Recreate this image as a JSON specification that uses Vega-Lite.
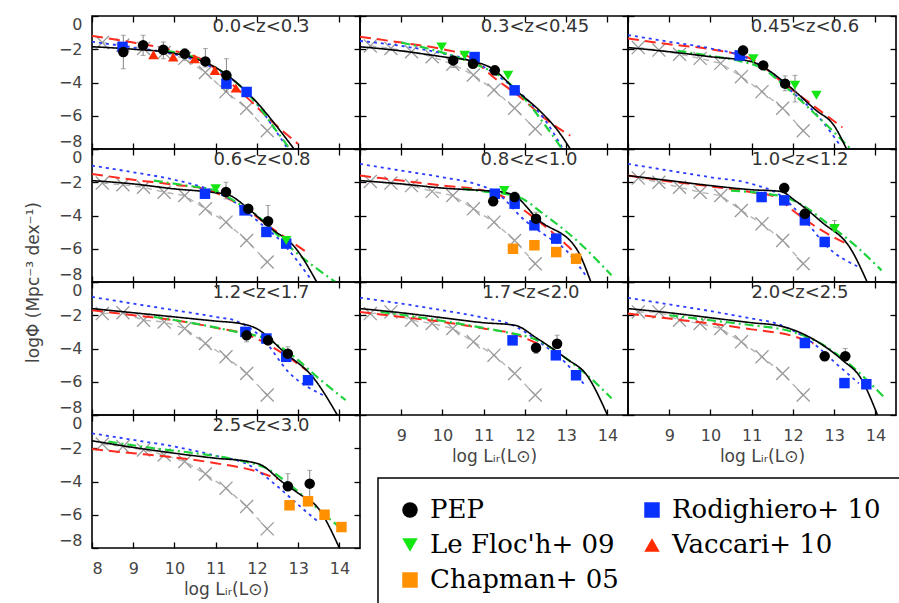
{
"$schema": "https://vega.github.io/schema/vega-lite/v6.json",
"background": "white",
"padding": {"left": 23, "top": 14, "right": 2, "bottom": 0},
"columns": 3,
"spacing": 0,
"bounds": "flush",
"data": {"values": [
{"p":1,"k":"c","s":"dashed","x":8,"y":-1.2},{"p":1,"k":"c","s":"dashed","x":9,"y":-1.6},{"p":1,"k":"c","s":"dashed","x":10,"y":-2.1},{"p":1,"k":"c","s":"dashed","x":10.8,"y":-2.8},{"p":1,"k":"c","s":"dashed","x":11.3,"y":-3.9},{"p":1,"k":"c","s":"dashed","x":11.8,"y":-5.0},{"p":1,"k":"c","s":"dashed","x":12.3,"y":-6.2},{"p":1,"k":"c","s":"dashed","x":13.0,"y":-7.7},
{"p":1,"k":"c","s":"dotted","x":8,"y":-1.55},{"p":1,"k":"c","s":"dotted","x":9,"y":-1.9},{"p":1,"k":"c","s":"dotted","x":10,"y":-2.3},{"p":1,"k":"c","s":"dotted","x":11,"y":-3.2},{"p":1,"k":"c","s":"dotted","x":11.5,"y":-4.0},{"p":1,"k":"c","s":"dotted","x":12,"y":-5.3},{"p":1,"k":"c","s":"dotted","x":12.4,"y":-6.7},{"p":1,"k":"c","s":"dotted","x":12.75,"y":-8},
{"p":1,"k":"c","s":"dashdot","x":9.8,"y":-2.1},{"p":1,"k":"c","s":"dashdot","x":10.5,"y":-2.5},{"p":1,"k":"c","s":"dashdot","x":11,"y":-3.1},{"p":1,"k":"c","s":"dashdot","x":11.5,"y":-4.0},{"p":1,"k":"c","s":"dashdot","x":12,"y":-5.3},{"p":1,"k":"c","s":"dashdot","x":12.5,"y":-7.0},{"p":1,"k":"c","s":"dashdot","x":12.8,"y":-8},
{"p":1,"k":"c","s":"solid","x":8,"y":-1.85},{"p":1,"k":"c","s":"solid","x":9,"y":-2.0},{"p":1,"k":"c","s":"solid","x":10,"y":-2.25},{"p":1,"k":"c","s":"solid","x":10.6,"y":-2.65},{"p":1,"k":"c","s":"solid","x":11,"y":-3.1},{"p":1,"k":"c","s":"solid","x":11.5,"y":-4.0},{"p":1,"k":"c","s":"solid","x":12,"y":-5.2},{"p":1,"k":"c","s":"solid","x":12.5,"y":-6.7},{"p":1,"k":"c","s":"solid","x":12.9,"y":-8},
{"p":1,"k":"g","x":8.25,"y":-1.6},{"p":1,"k":"g","x":8.75,"y":-1.75},{"p":1,"k":"g","x":9.25,"y":-1.95},{"p":1,"k":"g","x":9.75,"y":-2.2},{"p":1,"k":"g","x":10.25,"y":-2.55},{"p":1,"k":"g","x":10.75,"y":-3.4},{"p":1,"k":"g","x":11.25,"y":-4.55},{"p":1,"k":"g","x":11.75,"y":-5.55},{"p":1,"k":"g","x":12.25,"y":-6.9},
{"p":1,"k":"d","s":"Rodighiero+ 10","x":8.74,"y":-1.86},{"p":1,"k":"d","s":"Rodighiero+ 10","x":11.26,"y":-4.07},{"p":1,"k":"d","s":"Rodighiero+ 10","x":11.75,"y":-4.57},
{"p":1,"k":"d","s":"Vaccari+ 10","x":9.49,"y":-2.33},{"p":1,"k":"d","s":"Vaccari+ 10","x":9.97,"y":-2.47},{"p":1,"k":"d","s":"Vaccari+ 10","x":10.49,"y":-2.57},{"p":1,"k":"d","s":"Vaccari+ 10","x":10.98,"y":-3.27},{"p":1,"k":"d","s":"Vaccari+ 10","x":11.49,"y":-4.33},
{"p":1,"k":"d","s":"PEP","x":8.76,"y":-2.17,"lo":-3.17,"hi":-1.16},{"p":1,"k":"d","s":"PEP","x":9.24,"y":-1.76,"lo":-2.37,"hi":-1.16},{"p":1,"k":"d","s":"PEP","x":9.73,"y":-2.03,"lo":-2.57,"hi":-1.56},{"p":1,"k":"d","s":"PEP","x":10.25,"y":-2.27,"lo":-2.67,"hi":-1.96},{"p":1,"k":"d","s":"PEP","x":10.75,"y":-2.73,"lo":-3.07,"hi":-1.96},{"p":1,"k":"d","s":"PEP","x":11.26,"y":-3.57,"lo":-4.57,"hi":-2.57},

{"p":2,"k":"v","x":10.0},
{"p":2,"k":"c","s":"dashed","x":8,"y":-1.25},{"p":2,"k":"c","s":"dashed","x":9,"y":-1.6},{"p":2,"k":"c","s":"dashed","x":10,"y":-2.0},{"p":2,"k":"c","s":"dashed","x":10.6,"y":-2.4},{"p":2,"k":"c","s":"dashed","x":11.3,"y":-3.8},{"p":2,"k":"c","s":"dashed","x":11.9,"y":-4.9},{"p":2,"k":"c","s":"dashed","x":12.5,"y":-6.2},{"p":2,"k":"c","s":"dashed","x":13.1,"y":-7.2},
{"p":2,"k":"c","s":"dotted","x":8,"y":-1.5},{"p":2,"k":"c","s":"dotted","x":9,"y":-1.8},{"p":2,"k":"c","s":"dotted","x":10,"y":-2.25},{"p":2,"k":"c","s":"dotted","x":10.8,"y":-2.8},{"p":2,"k":"c","s":"dotted","x":11.4,"y":-3.7},{"p":2,"k":"c","s":"dotted","x":12,"y":-4.9},{"p":2,"k":"c","s":"dotted","x":12.5,"y":-6.3},{"p":2,"k":"c","s":"dotted","x":12.9,"y":-7.9},
{"p":2,"k":"c","s":"dashdot","x":9,"y":-1.6},{"p":2,"k":"c","s":"dashdot","x":10,"y":-2.2},{"p":2,"k":"c","s":"dashdot","x":10.8,"y":-2.9},{"p":2,"k":"c","s":"dashdot","x":11.5,"y":-3.8},{"p":2,"k":"c","s":"dashdot","x":12,"y":-5.0},{"p":2,"k":"c","s":"dashdot","x":12.5,"y":-6.6},{"p":2,"k":"c","s":"dashdot","x":12.9,"y":-8},
{"p":2,"k":"c","s":"solid","x":8,"y":-1.85},{"p":2,"k":"c","s":"solid","x":9,"y":-2.1},{"p":2,"k":"c","s":"solid","x":10,"y":-2.45},{"p":2,"k":"c","s":"solid","x":10.7,"y":-2.7},{"p":2,"k":"c","s":"solid","x":11.2,"y":-3.15},{"p":2,"k":"c","s":"solid","x":11.8,"y":-4.5},{"p":2,"k":"c","s":"solid","x":12.4,"y":-5.8},{"p":2,"k":"c","s":"solid","x":12.8,"y":-6.9},{"p":2,"k":"c","s":"solid","x":13.1,"y":-8},
{"p":2,"k":"g","x":8.25,"y":-1.8},{"p":2,"k":"g","x":8.75,"y":-1.95},{"p":2,"k":"g","x":9.25,"y":-2.15},{"p":2,"k":"g","x":9.75,"y":-2.45},{"p":2,"k":"g","x":10.25,"y":-2.9},{"p":2,"k":"g","x":10.75,"y":-3.55},{"p":2,"k":"g","x":11.25,"y":-4.45},{"p":2,"k":"g","x":11.75,"y":-5.55},{"p":2,"k":"g","x":12.25,"y":-6.8},
{"p":2,"k":"d","s":"Rodighiero+ 10","x":10.78,"y":-2.47},{"p":2,"k":"d","s":"Rodighiero+ 10","x":11.75,"y":-4.47},
{"p":2,"k":"d","s":"Le Floc'h+ 09","x":9.98,"y":-1.86},{"p":2,"k":"d","s":"Le Floc'h+ 09","x":10.54,"y":-2.37},{"p":2,"k":"d","s":"Le Floc'h+ 09","x":11.59,"y":-3.57},
{"p":2,"k":"d","s":"PEP","x":10.26,"y":-2.67,"lo":-3.1,"hi":-2.45},{"p":2,"k":"d","s":"PEP","x":10.74,"y":-2.87,"lo":-3.0,"hi":-2.7},{"p":2,"k":"d","s":"PEP","x":11.27,"y":-3.27,"lo":-3.55,"hi":-3.0},

{"p":3,"k":"v","x":10.55},
{"p":3,"k":"c","s":"dashed","x":8,"y":-1.35},{"p":3,"k":"c","s":"dashed","x":9,"y":-1.7},{"p":3,"k":"c","s":"dashed","x":10,"y":-2.0},{"p":3,"k":"c","s":"dashed","x":11,"y":-2.6},{"p":3,"k":"c","s":"dashed","x":11.8,"y":-4.1},{"p":3,"k":"c","s":"dashed","x":12.5,"y":-5.4},{"p":3,"k":"c","s":"dashed","x":13.2,"y":-6.7},
{"p":3,"k":"c","s":"dotted","x":8,"y":-1.15},{"p":3,"k":"c","s":"dotted","x":9,"y":-1.55},{"p":3,"k":"c","s":"dotted","x":10,"y":-1.95},{"p":3,"k":"c","s":"dotted","x":10.7,"y":-2.35},{"p":3,"k":"c","s":"dotted","x":11.3,"y":-3.1},{"p":3,"k":"c","s":"dotted","x":12.0,"y":-4.6},{"p":3,"k":"c","s":"dotted","x":12.6,"y":-6.0},{"p":3,"k":"c","s":"dotted","x":13.15,"y":-7.8},
{"p":3,"k":"c","s":"dashdot","x":9.2,"y":-2.1},{"p":3,"k":"c","s":"dashdot","x":10,"y":-2.4},{"p":3,"k":"c","s":"dashdot","x":10.7,"y":-2.7},{"p":3,"k":"c","s":"dashdot","x":11.3,"y":-3.2},{"p":3,"k":"c","s":"dashdot","x":11.7,"y":-4.0},{"p":3,"k":"c","s":"dashdot","x":12.5,"y":-5.8},{"p":3,"k":"c","s":"dashdot","x":13.0,"y":-7.0},{"p":3,"k":"c","s":"dashdot","x":13.4,"y":-8},
{"p":3,"k":"c","s":"solid","x":8,"y":-1.9},{"p":3,"k":"c","s":"solid","x":9,"y":-2.15},{"p":3,"k":"c","s":"solid","x":10,"y":-2.45},{"p":3,"k":"c","s":"solid","x":11,"y":-2.75},{"p":3,"k":"c","s":"solid","x":11.3,"y":-3.1},{"p":3,"k":"c","s":"solid","x":11.85,"y":-4.1},{"p":3,"k":"c","s":"solid","x":12.55,"y":-5.65},{"p":3,"k":"c","s":"solid","x":13.0,"y":-6.6},{"p":3,"k":"c","s":"solid","x":13.3,"y":-8},
{"p":3,"k":"g","x":8.25,"y":-1.9},{"p":3,"k":"g","x":8.75,"y":-2.05},{"p":3,"k":"g","x":9.25,"y":-2.3},{"p":3,"k":"g","x":9.75,"y":-2.55},{"p":3,"k":"g","x":10.25,"y":-2.85},{"p":3,"k":"g","x":10.75,"y":-3.65},{"p":3,"k":"g","x":11.25,"y":-4.55},{"p":3,"k":"g","x":11.75,"y":-5.55},{"p":3,"k":"g","x":12.25,"y":-6.9},
{"p":3,"k":"d","s":"Rodighiero+ 10","x":10.71,"y":-2.37},
{"p":3,"k":"d","s":"Le Floc'h+ 09","x":11.04,"y":-2.57},{"p":3,"k":"d","s":"Le Floc'h+ 09","x":12.05,"y":-4.17,"lo":-5.17,"hi":-3.57},{"p":3,"k":"d","s":"Le Floc'h+ 09","x":12.57,"y":-4.77},
{"p":3,"k":"d","s":"PEP","x":10.79,"y":-2.07,"lo":-2.4,"hi":-1.8},{"p":3,"k":"d","s":"PEP","x":11.28,"y":-2.97,"lo":-3.2,"hi":-2.75},{"p":3,"k":"d","s":"PEP","x":11.81,"y":-4.07,"lo":-4.5,"hi":-3.6},

{"p":4,"k":"v","x":10.9},
{"p":4,"k":"c","s":"dashed","x":8,"y":-1.5},{"p":4,"k":"c","s":"dashed","x":9,"y":-1.85},{"p":4,"k":"c","s":"dashed","x":10,"y":-2.15},{"p":4,"k":"c","s":"dashed","x":10.8,"y":-2.45},{"p":4,"k":"c","s":"dashed","x":11.4,"y":-3.1},{"p":4,"k":"c","s":"dashed","x":12.5,"y":-5.0},{"p":4,"k":"c","s":"dashed","x":13.2,"y":-6.2},
{"p":4,"k":"c","s":"dotted","x":8,"y":-1.0},{"p":4,"k":"c","s":"dotted","x":9,"y":-1.4},{"p":4,"k":"c","s":"dotted","x":10,"y":-1.85},{"p":4,"k":"c","s":"dotted","x":10.8,"y":-2.4},{"p":4,"k":"c","s":"dotted","x":11.4,"y":-3.1},{"p":4,"k":"c","s":"dotted","x":12.0,"y":-4.3},{"p":4,"k":"c","s":"dotted","x":12.6,"y":-5.6},{"p":4,"k":"c","s":"dotted","x":13.3,"y":-7.8},
{"p":4,"k":"c","s":"dashdot","x":9.5,"y":-1.9},{"p":4,"k":"c","s":"dashdot","x":10.3,"y":-2.2},{"p":4,"k":"c","s":"dashdot","x":11.0,"y":-2.5},{"p":4,"k":"c","s":"dashdot","x":11.5,"y":-3.2},{"p":4,"k":"c","s":"dashdot","x":12.0,"y":-4.0},{"p":4,"k":"c","s":"dashdot","x":12.8,"y":-5.9},{"p":4,"k":"c","s":"dashdot","x":13.9,"y":-8},
{"p":4,"k":"c","s":"solid","x":8,"y":-1.9},{"p":4,"k":"c","s":"solid","x":9,"y":-2.1},{"p":4,"k":"c","s":"solid","x":10,"y":-2.4},{"p":4,"k":"c","s":"solid","x":10.9,"y":-2.6},{"p":4,"k":"c","s":"solid","x":11.3,"y":-2.75},{"p":4,"k":"c","s":"solid","x":11.75,"y":-3.5},{"p":4,"k":"c","s":"solid","x":12.3,"y":-4.7},{"p":4,"k":"c","s":"solid","x":12.95,"y":-6.0},{"p":4,"k":"c","s":"solid","x":13.45,"y":-8},
{"p":4,"k":"g","x":8.25,"y":-2.05},{"p":4,"k":"g","x":8.75,"y":-2.15},{"p":4,"k":"g","x":9.25,"y":-2.3},{"p":4,"k":"g","x":9.75,"y":-2.6},{"p":4,"k":"g","x":10.25,"y":-2.8},{"p":4,"k":"g","x":10.75,"y":-3.6},{"p":4,"k":"g","x":11.25,"y":-4.4},{"p":4,"k":"g","x":11.75,"y":-5.5},{"p":4,"k":"g","x":12.25,"y":-6.8},
{"p":4,"k":"d","s":"Rodighiero+ 10","x":10.74,"y":-2.69},{"p":4,"k":"d","s":"Rodighiero+ 10","x":11.7,"y":-3.69},{"p":4,"k":"d","s":"Rodighiero+ 10","x":12.23,"y":-4.99},{"p":4,"k":"d","s":"Rodighiero+ 10","x":12.71,"y":-5.69},
{"p":4,"k":"d","s":"Le Floc'h+ 09","x":11.0,"y":-2.39},{"p":4,"k":"d","s":"Le Floc'h+ 09","x":12.71,"y":-5.5},
{"p":4,"k":"d","s":"PEP","x":11.25,"y":-2.59,"lo":-3.0,"hi":-2.0},{"p":4,"k":"d","s":"PEP","x":11.79,"y":-3.59,"lo":-3.8,"hi":-3.4},{"p":4,"k":"d","s":"PEP","x":12.27,"y":-4.35,"lo":-5.0,"hi":-3.4},

{"p":5,"k":"v","x":11.51},
{"p":5,"k":"c","s":"dashed","x":8,"y":-1.6},{"p":5,"k":"c","s":"dashed","x":9,"y":-1.9},{"p":5,"k":"c","s":"dashed","x":10,"y":-2.2},{"p":5,"k":"c","s":"dashed","x":11,"y":-2.5},{"p":5,"k":"c","s":"dashed","x":11.5,"y":-2.9},{"p":5,"k":"c","s":"dashed","x":12.2,"y":-4.1},{"p":5,"k":"c","s":"dashed","x":12.8,"y":-5.3},{"p":5,"k":"c","s":"dashed","x":13.4,"y":-6.7},
{"p":5,"k":"c","s":"dotted","x":8,"y":-0.9},{"p":5,"k":"c","s":"dotted","x":9,"y":-1.3},{"p":5,"k":"c","s":"dotted","x":10,"y":-1.7},{"p":5,"k":"c","s":"dotted","x":10.8,"y":-2.1},{"p":5,"k":"c","s":"dotted","x":11.3,"y":-2.6},{"p":5,"k":"c","s":"dotted","x":12.0,"y":-4.3},{"p":5,"k":"c","s":"dotted","x":12.5,"y":-5.2},{"p":5,"k":"c","s":"dotted","x":13.0,"y":-6.1},{"p":5,"k":"c","s":"dotted","x":13.5,"y":-7.7},
{"p":5,"k":"c","s":"dashdot","x":10.5,"y":-2.4},{"p":5,"k":"c","s":"dashdot","x":11,"y":-2.55},{"p":5,"k":"c","s":"dashdot","x":11.8,"y":-2.85},{"p":5,"k":"c","s":"dashdot","x":12.5,"y":-4.0},{"p":5,"k":"c","s":"dashdot","x":13.3,"y":-5.6},{"p":5,"k":"c","s":"dashdot","x":14.1,"y":-7.6},
{"p":5,"k":"c","s":"solid","x":8,"y":-1.9},{"p":5,"k":"c","s":"solid","x":9,"y":-2.1},{"p":5,"k":"c","s":"solid","x":10,"y":-2.35},{"p":5,"k":"c","s":"solid","x":11,"y":-2.5},{"p":5,"k":"c","s":"solid","x":11.5,"y":-2.6},{"p":5,"k":"c","s":"solid","x":11.8,"y":-2.9},{"p":5,"k":"c","s":"solid","x":12.3,"y":-4.2},{"p":5,"k":"c","s":"solid","x":13.25,"y":-6.0},{"p":5,"k":"c","s":"solid","x":13.6,"y":-8},
{"p":5,"k":"g","x":8.25,"y":-1.95},{"p":5,"k":"g","x":8.75,"y":-2.05},{"p":5,"k":"g","x":9.25,"y":-2.2},{"p":5,"k":"g","x":9.75,"y":-2.55},{"p":5,"k":"g","x":10.25,"y":-2.8},{"p":5,"k":"g","x":10.75,"y":-3.6},{"p":5,"k":"g","x":11.25,"y":-4.4},{"p":5,"k":"g","x":11.75,"y":-5.5},{"p":5,"k":"g","x":12.25,"y":-6.9},
{"p":5,"k":"d","s":"Rodighiero+ 10","x":11.27,"y":-2.69},{"p":5,"k":"d","s":"Rodighiero+ 10","x":11.75,"y":-3.29},{"p":5,"k":"d","s":"Rodighiero+ 10","x":12.23,"y":-4.59},{"p":5,"k":"d","s":"Rodighiero+ 10","x":12.76,"y":-5.39},
{"p":5,"k":"d","s":"Le Floc'h+ 09","x":11.5,"y":-2.5},
{"p":5,"k":"d","s":"Chapman+ 05","x":11.71,"y":-6.0,"lo":-6.15,"hi":-5.85},{"p":5,"k":"d","s":"Chapman+ 05","x":12.23,"y":-5.79,"lo":-5.94,"hi":-5.64},{"p":5,"k":"d","s":"Chapman+ 05","x":12.76,"y":-6.2,"lo":-6.35,"hi":-6.05},{"p":5,"k":"d","s":"Chapman+ 05","x":13.24,"y":-6.6,"lo":-6.75,"hi":-6.45},
{"p":5,"k":"d","s":"PEP","x":11.23,"y":-3.15,"lo":-3.4,"hi":-2.9},{"p":5,"k":"d","s":"PEP","x":11.75,"y":-2.89,"lo":-3.1,"hi":-2.6},{"p":5,"k":"d","s":"PEP","x":12.27,"y":-4.19,"lo":-4.5,"hi":-3.8},

{"p":6,"k":"v","x":11.79},
{"p":6,"k":"c","s":"dashed","x":8,"y":-1.6},{"p":6,"k":"c","s":"dashed","x":9,"y":-1.95},{"p":6,"k":"c","s":"dashed","x":10,"y":-2.25},{"p":6,"k":"c","s":"dashed","x":11,"y":-2.6},{"p":6,"k":"c","s":"dashed","x":11.6,"y":-2.9},{"p":6,"k":"c","s":"dashed","x":12.0,"y":-3.7},{"p":6,"k":"c","s":"dashed","x":12.7,"y":-4.9},{"p":6,"k":"c","s":"dashed","x":13.3,"y":-5.7},
{"p":6,"k":"c","s":"dotted","x":8,"y":-0.9},{"p":6,"k":"c","s":"dotted","x":9,"y":-1.3},{"p":6,"k":"c","s":"dotted","x":10,"y":-1.7},{"p":6,"k":"c","s":"dotted","x":11,"y":-2.1},{"p":6,"k":"c","s":"dotted","x":11.7,"y":-2.8},{"p":6,"k":"c","s":"dotted","x":12.3,"y":-4.3},{"p":6,"k":"c","s":"dotted","x":12.8,"y":-5.8},{"p":6,"k":"c","s":"dotted","x":13.6,"y":-7.1},
{"p":6,"k":"c","s":"dashdot","x":10.5,"y":-2.5},{"p":6,"k":"c","s":"dashdot","x":11.2,"y":-2.65},{"p":6,"k":"c","s":"dashdot","x":11.8,"y":-2.9},{"p":6,"k":"c","s":"dashdot","x":12.1,"y":-3.2},{"p":6,"k":"c","s":"dashdot","x":12.9,"y":-4.6},{"p":6,"k":"c","s":"dashdot","x":13.6,"y":-6.0},{"p":6,"k":"c","s":"dashdot","x":14.15,"y":-7.3},
{"p":6,"k":"c","s":"solid","x":8,"y":-1.6},{"p":6,"k":"c","s":"solid","x":9,"y":-1.9},{"p":6,"k":"c","s":"solid","x":10,"y":-2.2},{"p":6,"k":"c","s":"solid","x":11,"y":-2.45},{"p":6,"k":"c","s":"solid","x":11.7,"y":-2.55},{"p":6,"k":"c","s":"solid","x":12.05,"y":-3.1},{"p":6,"k":"c","s":"solid","x":12.7,"y":-4.4},{"p":6,"k":"c","s":"solid","x":13.4,"y":-6.0},{"p":6,"k":"c","s":"solid","x":13.8,"y":-8},
{"p":6,"k":"g","x":8.25,"y":-1.75},{"p":6,"k":"g","x":8.75,"y":-2.0},{"p":6,"k":"g","x":9.25,"y":-2.3},{"p":6,"k":"g","x":9.75,"y":-2.6},{"p":6,"k":"g","x":10.25,"y":-2.8},{"p":6,"k":"g","x":10.75,"y":-3.7},{"p":6,"k":"g","x":11.25,"y":-4.5},{"p":6,"k":"g","x":11.75,"y":-5.5},{"p":6,"k":"g","x":12.25,"y":-6.9},
{"p":6,"k":"d","s":"Rodighiero+ 10","x":11.24,"y":-2.89},{"p":6,"k":"d","s":"Rodighiero+ 10","x":11.79,"y":-3.09},{"p":6,"k":"d","s":"Rodighiero+ 10","x":12.29,"y":-4.29},{"p":6,"k":"d","s":"Rodighiero+ 10","x":12.77,"y":-5.59},
{"p":6,"k":"d","s":"Le Floc'h+ 09","x":13.01,"y":-4.79,"lo":-4.9,"hi":-4.3},
{"p":6,"k":"d","s":"PEP","x":11.79,"y":-2.35,"lo":-2.6,"hi":-2.05},{"p":6,"k":"d","s":"PEP","x":12.29,"y":-3.89,"lo":-4.1,"hi":-3.6},

{"p":7,"k":"v","x":11.91},
{"p":7,"k":"c","s":"dashed","x":8,"y":-1.7},{"p":7,"k":"c","s":"dashed","x":9,"y":-2.0},{"p":7,"k":"c","s":"dashed","x":10,"y":-2.3},{"p":7,"k":"c","s":"dashed","x":11,"y":-2.75},{"p":7,"k":"c","s":"dashed","x":11.8,"y":-3.2},{"p":7,"k":"c","s":"dashed","x":12.5,"y":-4.1},{"p":7,"k":"c","s":"dashed","x":13.2,"y":-5.3},
{"p":7,"k":"c","s":"dotted","x":8,"y":-0.9},{"p":7,"k":"c","s":"dotted","x":9,"y":-1.3},{"p":7,"k":"c","s":"dotted","x":10,"y":-1.7},{"p":7,"k":"c","s":"dotted","x":11,"y":-2.1},{"p":7,"k":"c","s":"dotted","x":11.5,"y":-2.35},{"p":7,"k":"c","s":"dotted","x":12.1,"y":-3.3},{"p":7,"k":"c","s":"dotted","x":12.8,"y":-5.5},{"p":7,"k":"c","s":"dotted","x":13.6,"y":-6.8},
{"p":7,"k":"c","s":"dashdot","x":9.5,"y":-2.1},{"p":7,"k":"c","s":"dashdot","x":10.5,"y":-2.5},{"p":7,"k":"c","s":"dashdot","x":11.5,"y":-3.0},{"p":7,"k":"c","s":"dashdot","x":12.2,"y":-3.4},{"p":7,"k":"c","s":"dashdot","x":12.8,"y":-4.3},{"p":7,"k":"c","s":"dashdot","x":13.5,"y":-5.8},{"p":7,"k":"c","s":"dashdot","x":14.15,"y":-7.1},
{"p":7,"k":"c","s":"solid","x":8,"y":-1.6},{"p":7,"k":"c","s":"solid","x":9,"y":-1.85},{"p":7,"k":"c","s":"solid","x":10,"y":-2.1},{"p":7,"k":"c","s":"solid","x":11,"y":-2.35},{"p":7,"k":"c","s":"solid","x":11.6,"y":-2.5},{"p":7,"k":"c","s":"solid","x":11.95,"y":-2.75},{"p":7,"k":"c","s":"solid","x":12.7,"y":-4.3},{"p":7,"k":"c","s":"solid","x":13.35,"y":-5.7},{"p":7,"k":"c","s":"solid","x":13.95,"y":-8},
{"p":7,"k":"g","x":8.25,"y":-1.9},{"p":7,"k":"g","x":8.75,"y":-1.85},{"p":7,"k":"g","x":9.25,"y":-2.3},{"p":7,"k":"g","x":9.75,"y":-2.4},{"p":7,"k":"g","x":10.25,"y":-2.8},{"p":7,"k":"g","x":10.75,"y":-3.7},{"p":7,"k":"g","x":11.25,"y":-4.5},{"p":7,"k":"g","x":11.75,"y":-5.5},{"p":7,"k":"g","x":12.25,"y":-6.8},
{"p":7,"k":"d","s":"Rodighiero+ 10","x":11.72,"y":-3.0},{"p":7,"k":"d","s":"Rodighiero+ 10","x":12.23,"y":-3.4},{"p":7,"k":"d","s":"Rodighiero+ 10","x":12.71,"y":-4.5},{"p":7,"k":"d","s":"Rodighiero+ 10","x":13.24,"y":-5.91},
{"p":7,"k":"d","s":"PEP","x":11.75,"y":-3.21,"lo":-3.6,"hi":-2.9},{"p":7,"k":"d","s":"PEP","x":12.27,"y":-3.51,"lo":-3.7,"hi":-3.3},{"p":7,"k":"d","s":"PEP","x":12.75,"y":-4.31,"lo":-4.5,"hi":-3.9},

{"p":8,"k":"v","x":12.39},
{"p":8,"k":"c","s":"dashed","x":8,"y":-1.8},{"p":8,"k":"c","s":"dashed","x":9,"y":-2.1},{"p":8,"k":"c","s":"dashed","x":10,"y":-2.4},{"p":8,"k":"c","s":"dashed","x":11,"y":-2.8},{"p":8,"k":"c","s":"dashed","x":11.7,"y":-3.1},{"p":8,"k":"c","s":"dashed","x":12.3,"y":-3.7},
{"p":8,"k":"c","s":"dotted","x":8,"y":-0.95},{"p":8,"k":"c","s":"dotted","x":9,"y":-1.3},{"p":8,"k":"c","s":"dotted","x":10,"y":-1.7},{"p":8,"k":"c","s":"dotted","x":11,"y":-2.15},{"p":8,"k":"c","s":"dotted","x":11.7,"y":-2.6},{"p":8,"k":"c","s":"dotted","x":12.4,"y":-3.7},{"p":8,"k":"c","s":"dotted","x":13.0,"y":-4.9},{"p":8,"k":"c","s":"dotted","x":13.45,"y":-6.2},
{"p":8,"k":"c","s":"dashdot","x":8.5,"y":-1.8},{"p":8,"k":"c","s":"dashdot","x":9.5,"y":-2.15},{"p":8,"k":"c","s":"dashdot","x":10.5,"y":-2.55},{"p":8,"k":"c","s":"dashdot","x":11.5,"y":-3.0},{"p":8,"k":"c","s":"dashdot","x":12.3,"y":-3.5},{"p":8,"k":"c","s":"dashdot","x":13.0,"y":-4.6},{"p":8,"k":"c","s":"dashdot","x":13.6,"y":-5.8},{"p":8,"k":"c","s":"dashdot","x":14.1,"y":-7.0},
{"p":8,"k":"c","s":"solid","x":8,"y":-1.6},{"p":8,"k":"c","s":"solid","x":9,"y":-1.85},{"p":8,"k":"c","s":"solid","x":10,"y":-2.15},{"p":8,"k":"c","s":"solid","x":11,"y":-2.45},{"p":8,"k":"c","s":"solid","x":11.75,"y":-2.6},{"p":8,"k":"c","s":"solid","x":12.3,"y":-3.4},{"p":8,"k":"c","s":"solid","x":13.0,"y":-4.6},{"p":8,"k":"c","s":"solid","x":13.5,"y":-5.6},{"p":8,"k":"c","s":"solid","x":14.0,"y":-8},
{"p":8,"k":"g","x":8.25,"y":-1.9},{"p":8,"k":"g","x":8.75,"y":-1.8},{"p":8,"k":"g","x":9.25,"y":-2.3},{"p":8,"k":"g","x":9.75,"y":-2.5},{"p":8,"k":"g","x":10.25,"y":-2.8},{"p":8,"k":"g","x":10.75,"y":-3.6},{"p":8,"k":"g","x":11.25,"y":-4.4},{"p":8,"k":"g","x":11.75,"y":-5.5},{"p":8,"k":"g","x":12.25,"y":-6.8},
{"p":8,"k":"d","s":"Rodighiero+ 10","x":11.7,"y":-3.51},{"p":8,"k":"d","s":"Rodighiero+ 10","x":12.75,"y":-4.41},{"p":8,"k":"d","s":"Rodighiero+ 10","x":13.24,"y":-5.61},
{"p":8,"k":"d","s":"PEP","x":12.27,"y":-3.95,"lo":-4.3,"hi":-3.7},{"p":8,"k":"d","s":"PEP","x":12.78,"y":-3.71,"lo":-4.0,"hi":-3.2},

{"p":9,"k":"v","x":12.53},
{"p":9,"k":"c","s":"dashed","x":8,"y":-1.9},{"p":9,"k":"c","s":"dashed","x":9,"y":-2.2},{"p":9,"k":"c","s":"dashed","x":10,"y":-2.5},{"p":9,"k":"c","s":"dashed","x":11,"y":-2.85},{"p":9,"k":"c","s":"dashed","x":12.0,"y":-3.25},{"p":9,"k":"c","s":"dashed","x":12.5,"y":-3.7},
{"p":9,"k":"c","s":"dotted","x":8,"y":-0.95},{"p":9,"k":"c","s":"dotted","x":9,"y":-1.35},{"p":9,"k":"c","s":"dotted","x":10,"y":-1.75},{"p":9,"k":"c","s":"dotted","x":11,"y":-2.2},{"p":9,"k":"c","s":"dotted","x":11.6,"y":-2.5},{"p":9,"k":"c","s":"dotted","x":12.5,"y":-3.7},{"p":9,"k":"c","s":"dotted","x":13.0,"y":-4.8},{"p":9,"k":"c","s":"dotted","x":13.6,"y":-6.1},
{"p":9,"k":"c","s":"dashdot","x":9,"y":-2.0},{"p":9,"k":"c","s":"dashdot","x":10,"y":-2.3},{"p":9,"k":"c","s":"dashdot","x":11,"y":-2.6},{"p":9,"k":"c","s":"dashdot","x":12,"y":-3.0},{"p":9,"k":"c","s":"dashdot","x":12.6,"y":-3.6},{"p":9,"k":"c","s":"dashdot","x":13.3,"y":-4.8},{"p":9,"k":"c","s":"dashdot","x":14.2,"y":-6.9},
{"p":9,"k":"c","s":"solid","x":8,"y":-1.6},{"p":9,"k":"c","s":"solid","x":9,"y":-1.85},{"p":9,"k":"c","s":"solid","x":10,"y":-2.15},{"p":9,"k":"c","s":"solid","x":11,"y":-2.45},{"p":9,"k":"c","s":"solid","x":11.7,"y":-2.65},{"p":9,"k":"c","s":"solid","x":12.6,"y":-3.6},{"p":9,"k":"c","s":"solid","x":13.2,"y":-4.7},{"p":9,"k":"c","s":"solid","x":13.65,"y":-5.8},{"p":9,"k":"c","s":"solid","x":14.05,"y":-8},
{"p":9,"k":"g","x":8.25,"y":-1.8},{"p":9,"k":"g","x":8.75,"y":-1.8},{"p":9,"k":"g","x":9.25,"y":-2.3},{"p":9,"k":"g","x":9.75,"y":-2.5},{"p":9,"k":"g","x":10.25,"y":-2.8},{"p":9,"k":"g","x":10.75,"y":-3.6},{"p":9,"k":"g","x":11.25,"y":-4.5},{"p":9,"k":"g","x":11.75,"y":-5.5},{"p":9,"k":"g","x":12.25,"y":-6.8},
{"p":9,"k":"d","s":"Rodighiero+ 10","x":12.29,"y":-3.67},{"p":9,"k":"d","s":"Rodighiero+ 10","x":13.25,"y":-6.08},{"p":9,"k":"d","s":"Rodighiero+ 10","x":13.78,"y":-6.15},
{"p":9,"k":"d","s":"PEP","x":12.77,"y":-4.47,"lo":-4.7,"hi":-4.2},{"p":9,"k":"d","s":"PEP","x":13.27,"y":-4.47,"lo":-4.7,"hi":-4.0},

{"p":10,"k":"v","x":12.59},
{"p":10,"k":"c","s":"dashed","x":8,"y":-2.05},{"p":10,"k":"c","s":"dashed","x":9,"y":-2.3},{"p":10,"k":"c","s":"dashed","x":10,"y":-2.55},{"p":10,"k":"c","s":"dashed","x":11,"y":-2.9},{"p":10,"k":"c","s":"dashed","x":12,"y":-3.4},{"p":10,"k":"c","s":"dashed","x":12.5,"y":-3.85},
{"p":10,"k":"c","s":"dotted","x":8,"y":-1.1},{"p":10,"k":"c","s":"dotted","x":9,"y":-1.5},{"p":10,"k":"c","s":"dotted","x":10,"y":-1.9},{"p":10,"k":"c","s":"dotted","x":11,"y":-2.45},{"p":10,"k":"c","s":"dotted","x":11.8,"y":-3.0},{"p":10,"k":"c","s":"dotted","x":12.5,"y":-4.3},{"p":10,"k":"c","s":"dotted","x":13.0,"y":-5.4},{"p":10,"k":"c","s":"dotted","x":13.5,"y":-6.45},
{"p":10,"k":"c","s":"dashdot","x":8.4,"y":-1.6},{"p":10,"k":"c","s":"dashdot","x":9.5,"y":-2.0},{"p":10,"k":"c","s":"dashdot","x":10.5,"y":-2.3},{"p":10,"k":"c","s":"dashdot","x":11.5,"y":-2.7},{"p":10,"k":"c","s":"dashdot","x":12.3,"y":-3.3},{"p":10,"k":"c","s":"dashdot","x":12.8,"y":-4.2},{"p":10,"k":"c","s":"dashdot","x":13.5,"y":-5.7},{"p":10,"k":"c","s":"dashdot","x":14.1,"y":-6.95},
{"p":10,"k":"c","s":"solid","x":8,"y":-1.55},{"p":10,"k":"c","s":"solid","x":9,"y":-1.95},{"p":10,"k":"c","s":"solid","x":10,"y":-2.3},{"p":10,"k":"c","s":"solid","x":11,"y":-2.6},{"p":10,"k":"c","s":"solid","x":11.8,"y":-2.8},{"p":10,"k":"c","s":"solid","x":12.1,"y":-3.0},{"p":10,"k":"c","s":"solid","x":12.6,"y":-4.0},{"p":10,"k":"c","s":"solid","x":13.0,"y":-4.7},{"p":10,"k":"c","s":"solid","x":13.5,"y":-5.65},{"p":10,"k":"c","s":"solid","x":14.0,"y":-8},
{"p":10,"k":"g","x":8.25,"y":-1.75},{"p":10,"k":"g","x":8.75,"y":-1.9},{"p":10,"k":"g","x":9.25,"y":-2.1},{"p":10,"k":"g","x":9.75,"y":-2.4},{"p":10,"k":"g","x":10.25,"y":-2.8},{"p":10,"k":"g","x":10.75,"y":-3.55},{"p":10,"k":"g","x":11.25,"y":-4.4},{"p":10,"k":"g","x":11.75,"y":-5.5},{"p":10,"k":"g","x":12.25,"y":-6.85},
{"p":10,"k":"d","s":"Chapman+ 05","x":12.79,"y":-5.43,"lo":-5.58,"hi":-5.28},{"p":10,"k":"d","s":"Chapman+ 05","x":13.24,"y":-5.19,"lo":-5.34,"hi":-5.04},{"p":10,"k":"d","s":"Chapman+ 05","x":13.64,"y":-6.0,"lo":-6.15,"hi":-5.85},{"p":10,"k":"d","s":"Chapman+ 05","x":14.05,"y":-6.74,"lo":-6.89,"hi":-6.59},
{"p":10,"k":"d","s":"PEP","x":12.75,"y":-4.29,"lo":-4.43,"hi":-3.53},{"p":10,"k":"d","s":"PEP","x":13.28,"y":-4.13,"lo":-5.03,"hi":-3.33}
]},
"concat": [
{"title":{"text":"0.0<z<0.3","frame":"group","dx":35},"width":268,"height":133,"transform":[{"filter":"datum.p==1"}],
 "encoding":{"x":{"field":"x","type":"quantitative","scale":{"domain":[8,14.5]},"axis":null},"y":{"field":"y","type":"quantitative","scale":{"domain":[-8,0]},"axis":null}},
 "resolve":{"axis":{"x":"independent","y":"independent"}},
 "layer":[
  {"transform":[{"filter":"datum.k=='v'"}],"mark":{"type":"rule","color":"#8c8c8c","strokeDash":[8,6],"strokeWidth":1.6},"encoding":{"y":{"datum":-8,"type":"quantitative","axis":null},"y2":{"datum":0}}},
  {"transform":[{"filter":"datum.k=='g'"}],"mark":{"type":"line","color":"#b5b5b5","strokeDash":[6,5],"strokeWidth":1.4,"clip":true},"encoding":{"x":{"field":"x","type":"quantitative","scale":{"domain":[8,14.5]},"axis":{"orient":"top","values":[8,9,10,11,12,13,14],"labels":false,"title":null}},"y":{"field":"y","type":"quantitative","scale":{"domain":[-8,0]},"axis":{"orient":"right","values":[0,-2,-4,-6,-8],"labels":false,"title":null}}}},
  {"transform":[{"filter":"datum.k=='g'"}],"mark":{"type":"point","shape":"M-1,-1L1,1M1,-1L-1,1","filled":false,"color":"#9a9a9a","strokeWidth":1.3,"size":170,"opacity":1}},
  {"transform":[{"filter":"datum.k=='c'"}],"mark":{"type":"line","clip":true,"interpolate":"monotone"},"encoding":{
    "x":{"field":"x","type":"quantitative","scale":{"domain":[8,14.5]},"axis":{"orient":"bottom","values":[8,9,10,11,12,13,14],"labels":false,"title":null}},
    "y":{"field":"y","type":"quantitative","scale":{"domain":[-8,0]},"axis":{"orient":"left","values":[0,-2,-4,-6,-8],"title":null}},
    "stroke":{"field":"s","type":"nominal","scale":{"domain":["dashdot","dashed","dotted","solid"],"range":["#1ed23c","#ff2a1f","#2a3cff","#000000"]},"legend":null},
    "strokeDash":{"field":"s","type":"nominal","scale":{"domain":["dashdot","dashed","dotted","solid"],"range":[[9,4,2,4],[11,6],[3,4],[1,0]]},"legend":null},
    "strokeWidth":{"field":"s","type":"nominal","scale":{"domain":["dashdot","dashed","dotted","solid"],"range":[2.2,1.6,3.2,2]},"legend":null}}},
  {"transform":[{"filter":"datum.k=='d' && isValid(datum.lo)"}],"mark":{"type":"errorbar","ticks":true,"color":"#858585"},"encoding":{"y":{"field":"lo","type":"quantitative","scale":{"domain":[-8,0]},"axis":null},"y2":{"field":"hi"}}},
  {"transform":[{"filter":"datum.k=='d'"}],"mark":{"type":"point","filled":true,"size":110,"opacity":1},"encoding":{
    "fill":{"field":"s","type":"nominal","scale":{"domain":["PEP","Rodighiero+ 10","Le Floc'h+ 09","Vaccari+ 10","Chapman+ 05"],"range":["#000000","#0a32ff","#14e614","#ff2a00","#ff9100"]},"legend":{"title":null,"orient":"none","legendX":286,"legendY":462,"direction":"horizontal","columns":2,"gridAlign":"none"}},
    "shape":{"field":"s","type":"nominal","scale":{"domain":["PEP","Rodighiero+ 10","Le Floc'h+ 09","Vaccari+ 10","Chapman+ 05"],"range":["circle","square","triangle-down","triangle-up","square"]},"legend":{"title":null,"orient":"none","legendX":286,"legendY":462,"direction":"horizontal","columns":2,"gridAlign":"none"}}}}
 ]},
{"title":{"text":"0.3<z<0.45","frame":"group","dx":41},"width":268,"height":133,"transform":[{"filter":"datum.p==2"}],
 "encoding":{"x":{"field":"x","type":"quantitative","scale":{"domain":[8,14.5]},"axis":null},"y":{"field":"y","type":"quantitative","scale":{"domain":[-8,0]},"axis":null}},
 "resolve":{"axis":{"x":"independent","y":"independent"}},
 "layer":[
  {"transform":[{"filter":"datum.k=='v'"}],"mark":{"type":"rule","color":"#8c8c8c","strokeDash":[8,6],"strokeWidth":1.6},"encoding":{"y":{"datum":-8,"type":"quantitative","axis":null},"y2":{"datum":0}}},
  {"transform":[{"filter":"datum.k=='g'"}],"mark":{"type":"line","color":"#b5b5b5","strokeDash":[6,5],"strokeWidth":1.4,"clip":true},"encoding":{"x":{"field":"x","type":"quantitative","scale":{"domain":[8,14.5]},"axis":{"orient":"top","values":[8,9,10,11,12,13,14],"labels":false,"title":null}},"y":{"field":"y","type":"quantitative","scale":{"domain":[-8,0]},"axis":{"orient":"right","values":[0,-2,-4,-6,-8],"labels":false,"title":null}}}},
  {"transform":[{"filter":"datum.k=='g'"}],"mark":{"type":"point","shape":"M-1,-1L1,1M1,-1L-1,1","filled":false,"color":"#9a9a9a","strokeWidth":1.3,"size":170,"opacity":1}},
  {"transform":[{"filter":"datum.k=='c'"}],"mark":{"type":"line","clip":true,"interpolate":"monotone"},"encoding":{
    "x":{"field":"x","type":"quantitative","scale":{"domain":[8,14.5]},"axis":{"orient":"bottom","values":[8,9,10,11,12,13,14],"labels":false,"title":null}},
    "y":{"field":"y","type":"quantitative","scale":{"domain":[-8,0]},"axis":{"orient":"left","values":[0,-2,-4,-6,-8],"labels":false,"title":null}},
    "stroke":{"field":"s","type":"nominal","scale":{"domain":["dashdot","dashed","dotted","solid"],"range":["#1ed23c","#ff2a1f","#2a3cff","#000000"]},"legend":null},
    "strokeDash":{"field":"s","type":"nominal","scale":{"domain":["dashdot","dashed","dotted","solid"],"range":[[9,4,2,4],[11,6],[3,4],[1,0]]},"legend":null},
    "strokeWidth":{"field":"s","type":"nominal","scale":{"domain":["dashdot","dashed","dotted","solid"],"range":[2.2,1.6,3.2,2]},"legend":null}}},
  {"transform":[{"filter":"datum.k=='d' && isValid(datum.lo)"}],"mark":{"type":"errorbar","ticks":true,"color":"#858585"},"encoding":{"y":{"field":"lo","type":"quantitative","scale":{"domain":[-8,0]},"axis":null},"y2":{"field":"hi"}}},
  {"transform":[{"filter":"datum.k=='d'"}],"mark":{"type":"point","filled":true,"size":110,"opacity":1},"encoding":{
    "fill":{"field":"s","type":"nominal","scale":{"domain":["PEP","Rodighiero+ 10","Le Floc'h+ 09","Vaccari+ 10","Chapman+ 05"],"range":["#000000","#0a32ff","#14e614","#ff2a00","#ff9100"]},"legend":null},
    "shape":{"field":"s","type":"nominal","scale":{"domain":["PEP","Rodighiero+ 10","Le Floc'h+ 09","Vaccari+ 10","Chapman+ 05"],"range":["circle","square","triangle-down","triangle-up","square"]},"legend":null}}}
 ]},
{"title":{"text":"0.45<z<0.6","frame":"group","dx":43},"width":268,"height":133,"transform":[{"filter":"datum.p==3"}],
 "encoding":{"x":{"field":"x","type":"quantitative","scale":{"domain":[8,14.5]},"axis":null},"y":{"field":"y","type":"quantitative","scale":{"domain":[-8,0]},"axis":null}},
 "resolve":{"axis":{"x":"independent","y":"independent"}},
 "layer":[
  {"transform":[{"filter":"datum.k=='v'"}],"mark":{"type":"rule","color":"#8c8c8c","strokeDash":[8,6],"strokeWidth":1.6},"encoding":{"y":{"datum":-8,"type":"quantitative","axis":null},"y2":{"datum":0}}},
  {"transform":[{"filter":"datum.k=='g'"}],"mark":{"type":"line","color":"#b5b5b5","strokeDash":[6,5],"strokeWidth":1.4,"clip":true},"encoding":{"x":{"field":"x","type":"quantitative","scale":{"domain":[8,14.5]},"axis":{"orient":"top","values":[8,9,10,11,12,13,14],"labels":false,"title":null}},"y":{"field":"y","type":"quantitative","scale":{"domain":[-8,0]},"axis":{"orient":"right","values":[0,-2,-4,-6,-8],"labels":false,"title":null}}}},
  {"transform":[{"filter":"datum.k=='g'"}],"mark":{"type":"point","shape":"M-1,-1L1,1M1,-1L-1,1","filled":false,"color":"#9a9a9a","strokeWidth":1.3,"size":170,"opacity":1}},
  {"transform":[{"filter":"datum.k=='c'"}],"mark":{"type":"line","clip":true,"interpolate":"monotone"},"encoding":{
    "x":{"field":"x","type":"quantitative","scale":{"domain":[8,14.5]},"axis":{"orient":"bottom","values":[8,9,10,11,12,13,14],"labels":false,"title":null}},
    "y":{"field":"y","type":"quantitative","scale":{"domain":[-8,0]},"axis":{"orient":"left","values":[0,-2,-4,-6,-8],"labels":false,"title":null}},
    "stroke":{"field":"s","type":"nominal","scale":{"domain":["dashdot","dashed","dotted","solid"],"range":["#1ed23c","#ff2a1f","#2a3cff","#000000"]},"legend":null},
    "strokeDash":{"field":"s","type":"nominal","scale":{"domain":["dashdot","dashed","dotted","solid"],"range":[[9,4,2,4],[11,6],[3,4],[1,0]]},"legend":null},
    "strokeWidth":{"field":"s","type":"nominal","scale":{"domain":["dashdot","dashed","dotted","solid"],"range":[2.2,1.6,3.2,2]},"legend":null}}},
  {"transform":[{"filter":"datum.k=='d' && isValid(datum.lo)"}],"mark":{"type":"errorbar","ticks":true,"color":"#858585"},"encoding":{"y":{"field":"lo","type":"quantitative","scale":{"domain":[-8,0]},"axis":null},"y2":{"field":"hi"}}},
  {"transform":[{"filter":"datum.k=='d'"}],"mark":{"type":"point","filled":true,"size":110,"opacity":1},"encoding":{
    "fill":{"field":"s","type":"nominal","scale":{"domain":["PEP","Rodighiero+ 10","Le Floc'h+ 09","Vaccari+ 10","Chapman+ 05"],"range":["#000000","#0a32ff","#14e614","#ff2a00","#ff9100"]},"legend":null},
    "shape":{"field":"s","type":"nominal","scale":{"domain":["PEP","Rodighiero+ 10","Le Floc'h+ 09","Vaccari+ 10","Chapman+ 05"],"range":["circle","square","triangle-down","triangle-up","square"]},"legend":null}}}
 ]},
{"title":{"text":"0.6<z<0.8","frame":"group","dx":36},"width":268,"height":133,"transform":[{"filter":"datum.p==4"}],
 "encoding":{"x":{"field":"x","type":"quantitative","scale":{"domain":[8,14.5]},"axis":null},"y":{"field":"y","type":"quantitative","scale":{"domain":[-8,0]},"axis":null}},
 "resolve":{"axis":{"x":"independent","y":"independent"}},
 "layer":[
  {"transform":[{"filter":"datum.k=='v'"}],"mark":{"type":"rule","color":"#8c8c8c","strokeDash":[8,6],"strokeWidth":1.6},"encoding":{"y":{"datum":-8,"type":"quantitative","axis":null},"y2":{"datum":0}}},
  {"transform":[{"filter":"datum.k=='g'"}],"mark":{"type":"line","color":"#b5b5b5","strokeDash":[6,5],"strokeWidth":1.4,"clip":true},"encoding":{"x":{"field":"x","type":"quantitative","scale":{"domain":[8,14.5]},"axis":{"orient":"top","values":[8,9,10,11,12,13,14],"labels":false,"title":null}},"y":{"field":"y","type":"quantitative","scale":{"domain":[-8,0]},"axis":{"orient":"right","values":[0,-2,-4,-6,-8],"labels":false,"title":null}}}},
  {"transform":[{"filter":"datum.k=='g'"}],"mark":{"type":"point","shape":"M-1,-1L1,1M1,-1L-1,1","filled":false,"color":"#9a9a9a","strokeWidth":1.3,"size":170,"opacity":1}},
  {"transform":[{"filter":"datum.k=='c'"}],"mark":{"type":"line","clip":true,"interpolate":"monotone"},"encoding":{
    "x":{"field":"x","type":"quantitative","scale":{"domain":[8,14.5]},"axis":{"orient":"bottom","values":[8,9,10,11,12,13,14],"labels":false,"title":null}},
    "y":{"field":"y","type":"quantitative","scale":{"domain":[-8,0]},"axis":{"orient":"left","values":[0,-2,-4,-6,-8],"title":"logΦ (Mpc⁻³ dex⁻¹)","titleY":133}},
    "stroke":{"field":"s","type":"nominal","scale":{"domain":["dashdot","dashed","dotted","solid"],"range":["#1ed23c","#ff2a1f","#2a3cff","#000000"]},"legend":null},
    "strokeDash":{"field":"s","type":"nominal","scale":{"domain":["dashdot","dashed","dotted","solid"],"range":[[9,4,2,4],[11,6],[3,4],[1,0]]},"legend":null},
    "strokeWidth":{"field":"s","type":"nominal","scale":{"domain":["dashdot","dashed","dotted","solid"],"range":[2.2,1.6,3.2,2]},"legend":null}}},
  {"transform":[{"filter":"datum.k=='d' && isValid(datum.lo)"}],"mark":{"type":"errorbar","ticks":true,"color":"#858585"},"encoding":{"y":{"field":"lo","type":"quantitative","scale":{"domain":[-8,0]},"axis":null},"y2":{"field":"hi"}}},
  {"transform":[{"filter":"datum.k=='d'"}],"mark":{"type":"point","filled":true,"size":110,"opacity":1},"encoding":{
    "fill":{"field":"s","type":"nominal","scale":{"domain":["PEP","Rodighiero+ 10","Le Floc'h+ 09","Vaccari+ 10","Chapman+ 05"],"range":["#000000","#0a32ff","#14e614","#ff2a00","#ff9100"]},"legend":null},
    "shape":{"field":"s","type":"nominal","scale":{"domain":["PEP","Rodighiero+ 10","Le Floc'h+ 09","Vaccari+ 10","Chapman+ 05"],"range":["circle","square","triangle-down","triangle-up","square"]},"legend":null}}}
 ]},
{"title":{"text":"0.8<z<1.0","frame":"group","dx":35},"width":268,"height":133,"transform":[{"filter":"datum.p==5"}],
 "encoding":{"x":{"field":"x","type":"quantitative","scale":{"domain":[8,14.5]},"axis":null},"y":{"field":"y","type":"quantitative","scale":{"domain":[-8,0]},"axis":null}},
 "resolve":{"axis":{"x":"independent","y":"independent"}},
 "layer":[
  {"transform":[{"filter":"datum.k=='v'"}],"mark":{"type":"rule","color":"#8c8c8c","strokeDash":[8,6],"strokeWidth":1.6},"encoding":{"y":{"datum":-8,"type":"quantitative","axis":null},"y2":{"datum":0}}},
  {"transform":[{"filter":"datum.k=='g'"}],"mark":{"type":"line","color":"#b5b5b5","strokeDash":[6,5],"strokeWidth":1.4,"clip":true},"encoding":{"x":{"field":"x","type":"quantitative","scale":{"domain":[8,14.5]},"axis":{"orient":"top","values":[8,9,10,11,12,13,14],"labels":false,"title":null}},"y":{"field":"y","type":"quantitative","scale":{"domain":[-8,0]},"axis":{"orient":"right","values":[0,-2,-4,-6,-8],"labels":false,"title":null}}}},
  {"transform":[{"filter":"datum.k=='g'"}],"mark":{"type":"point","shape":"M-1,-1L1,1M1,-1L-1,1","filled":false,"color":"#9a9a9a","strokeWidth":1.3,"size":170,"opacity":1}},
  {"transform":[{"filter":"datum.k=='c'"}],"mark":{"type":"line","clip":true,"interpolate":"monotone"},"encoding":{
    "x":{"field":"x","type":"quantitative","scale":{"domain":[8,14.5]},"axis":{"orient":"bottom","values":[8,9,10,11,12,13,14],"labels":false,"title":null}},
    "y":{"field":"y","type":"quantitative","scale":{"domain":[-8,0]},"axis":{"orient":"left","values":[0,-2,-4,-6,-8],"labels":false,"title":null}},
    "stroke":{"field":"s","type":"nominal","scale":{"domain":["dashdot","dashed","dotted","solid"],"range":["#1ed23c","#ff2a1f","#2a3cff","#000000"]},"legend":null},
    "strokeDash":{"field":"s","type":"nominal","scale":{"domain":["dashdot","dashed","dotted","solid"],"range":[[9,4,2,4],[11,6],[3,4],[1,0]]},"legend":null},
    "strokeWidth":{"field":"s","type":"nominal","scale":{"domain":["dashdot","dashed","dotted","solid"],"range":[2.2,1.6,3.2,2]},"legend":null}}},
  {"transform":[{"filter":"datum.k=='d' && isValid(datum.lo)"}],"mark":{"type":"errorbar","ticks":true,"color":"#858585"},"encoding":{"y":{"field":"lo","type":"quantitative","scale":{"domain":[-8,0]},"axis":null},"y2":{"field":"hi"}}},
  {"transform":[{"filter":"datum.k=='d'"}],"mark":{"type":"point","filled":true,"size":110,"opacity":1},"encoding":{
    "fill":{"field":"s","type":"nominal","scale":{"domain":["PEP","Rodighiero+ 10","Le Floc'h+ 09","Vaccari+ 10","Chapman+ 05"],"range":["#000000","#0a32ff","#14e614","#ff2a00","#ff9100"]},"legend":null},
    "shape":{"field":"s","type":"nominal","scale":{"domain":["PEP","Rodighiero+ 10","Le Floc'h+ 09","Vaccari+ 10","Chapman+ 05"],"range":["circle","square","triangle-down","triangle-up","square"]},"legend":null}}}
 ]},
{"title":{"text":"1.0<z<1.2","frame":"group","dx":38},"width":268,"height":133,"transform":[{"filter":"datum.p==6"}],
 "encoding":{"x":{"field":"x","type":"quantitative","scale":{"domain":[8,14.5]},"axis":null},"y":{"field":"y","type":"quantitative","scale":{"domain":[-8,0]},"axis":null}},
 "resolve":{"axis":{"x":"independent","y":"independent"}},
 "layer":[
  {"transform":[{"filter":"datum.k=='v'"}],"mark":{"type":"rule","color":"#8c8c8c","strokeDash":[8,6],"strokeWidth":1.6},"encoding":{"y":{"datum":-8,"type":"quantitative","axis":null},"y2":{"datum":0}}},
  {"transform":[{"filter":"datum.k=='g'"}],"mark":{"type":"line","color":"#b5b5b5","strokeDash":[6,5],"strokeWidth":1.4,"clip":true},"encoding":{"x":{"field":"x","type":"quantitative","scale":{"domain":[8,14.5]},"axis":{"orient":"top","values":[8,9,10,11,12,13,14],"labels":false,"title":null}},"y":{"field":"y","type":"quantitative","scale":{"domain":[-8,0]},"axis":{"orient":"right","values":[0,-2,-4,-6,-8],"labels":false,"title":null}}}},
  {"transform":[{"filter":"datum.k=='g'"}],"mark":{"type":"point","shape":"M-1,-1L1,1M1,-1L-1,1","filled":false,"color":"#9a9a9a","strokeWidth":1.3,"size":170,"opacity":1}},
  {"transform":[{"filter":"datum.k=='c'"}],"mark":{"type":"line","clip":true,"interpolate":"monotone"},"encoding":{
    "x":{"field":"x","type":"quantitative","scale":{"domain":[8,14.5]},"axis":{"orient":"bottom","values":[8,9,10,11,12,13,14],"labels":false,"title":null}},
    "y":{"field":"y","type":"quantitative","scale":{"domain":[-8,0]},"axis":{"orient":"left","values":[0,-2,-4,-6,-8],"labels":false,"title":null}},
    "stroke":{"field":"s","type":"nominal","scale":{"domain":["dashdot","dashed","dotted","solid"],"range":["#1ed23c","#ff2a1f","#2a3cff","#000000"]},"legend":null},
    "strokeDash":{"field":"s","type":"nominal","scale":{"domain":["dashdot","dashed","dotted","solid"],"range":[[9,4,2,4],[11,6],[3,4],[1,0]]},"legend":null},
    "strokeWidth":{"field":"s","type":"nominal","scale":{"domain":["dashdot","dashed","dotted","solid"],"range":[2.2,1.6,3.2,2]},"legend":null}}},
  {"transform":[{"filter":"datum.k=='d' && isValid(datum.lo)"}],"mark":{"type":"errorbar","ticks":true,"color":"#858585"},"encoding":{"y":{"field":"lo","type":"quantitative","scale":{"domain":[-8,0]},"axis":null},"y2":{"field":"hi"}}},
  {"transform":[{"filter":"datum.k=='d'"}],"mark":{"type":"point","filled":true,"size":110,"opacity":1},"encoding":{
    "fill":{"field":"s","type":"nominal","scale":{"domain":["PEP","Rodighiero+ 10","Le Floc'h+ 09","Vaccari+ 10","Chapman+ 05"],"range":["#000000","#0a32ff","#14e614","#ff2a00","#ff9100"]},"legend":null},
    "shape":{"field":"s","type":"nominal","scale":{"domain":["PEP","Rodighiero+ 10","Le Floc'h+ 09","Vaccari+ 10","Chapman+ 05"],"range":["circle","square","triangle-down","triangle-up","square"]},"legend":null}}}
 ]},
{"title":{"text":"1.2<z<1.7","frame":"group","dx":35},"width":268,"height":133,"transform":[{"filter":"datum.p==7"}],
 "encoding":{"x":{"field":"x","type":"quantitative","scale":{"domain":[8,14.5]},"axis":null},"y":{"field":"y","type":"quantitative","scale":{"domain":[-8,0]},"axis":null}},
 "resolve":{"axis":{"x":"independent","y":"independent"}},
 "layer":[
  {"transform":[{"filter":"datum.k=='v'"}],"mark":{"type":"rule","color":"#8c8c8c","strokeDash":[8,6],"strokeWidth":1.6},"encoding":{"y":{"datum":-8,"type":"quantitative","axis":null},"y2":{"datum":0}}},
  {"transform":[{"filter":"datum.k=='g'"}],"mark":{"type":"line","color":"#b5b5b5","strokeDash":[6,5],"strokeWidth":1.4,"clip":true},"encoding":{"x":{"field":"x","type":"quantitative","scale":{"domain":[8,14.5]},"axis":{"orient":"top","values":[8,9,10,11,12,13,14],"labels":false,"title":null}},"y":{"field":"y","type":"quantitative","scale":{"domain":[-8,0]},"axis":{"orient":"right","values":[0,-2,-4,-6,-8],"labels":false,"title":null}}}},
  {"transform":[{"filter":"datum.k=='g'"}],"mark":{"type":"point","shape":"M-1,-1L1,1M1,-1L-1,1","filled":false,"color":"#9a9a9a","strokeWidth":1.3,"size":170,"opacity":1}},
  {"transform":[{"filter":"datum.k=='c'"}],"mark":{"type":"line","clip":true,"interpolate":"monotone"},"encoding":{
    "x":{"field":"x","type":"quantitative","scale":{"domain":[8,14.5]},"axis":{"orient":"bottom","values":[8,9,10,11,12,13,14],"labels":false,"title":null}},
    "y":{"field":"y","type":"quantitative","scale":{"domain":[-8,0]},"axis":{"orient":"left","values":[0,-2,-4,-6,-8],"title":null}},
    "stroke":{"field":"s","type":"nominal","scale":{"domain":["dashdot","dashed","dotted","solid"],"range":["#1ed23c","#ff2a1f","#2a3cff","#000000"]},"legend":null},
    "strokeDash":{"field":"s","type":"nominal","scale":{"domain":["dashdot","dashed","dotted","solid"],"range":[[9,4,2,4],[11,6],[3,4],[1,0]]},"legend":null},
    "strokeWidth":{"field":"s","type":"nominal","scale":{"domain":["dashdot","dashed","dotted","solid"],"range":[2.2,1.6,3.2,2]},"legend":null}}},
  {"transform":[{"filter":"datum.k=='d' && isValid(datum.lo)"}],"mark":{"type":"errorbar","ticks":true,"color":"#858585"},"encoding":{"y":{"field":"lo","type":"quantitative","scale":{"domain":[-8,0]},"axis":null},"y2":{"field":"hi"}}},
  {"transform":[{"filter":"datum.k=='d'"}],"mark":{"type":"point","filled":true,"size":110,"opacity":1},"encoding":{
    "fill":{"field":"s","type":"nominal","scale":{"domain":["PEP","Rodighiero+ 10","Le Floc'h+ 09","Vaccari+ 10","Chapman+ 05"],"range":["#000000","#0a32ff","#14e614","#ff2a00","#ff9100"]},"legend":null},
    "shape":{"field":"s","type":"nominal","scale":{"domain":["PEP","Rodighiero+ 10","Le Floc'h+ 09","Vaccari+ 10","Chapman+ 05"],"range":["circle","square","triangle-down","triangle-up","square"]},"legend":null}}}
 ]},
{"title":{"text":"1.7<z<2.0","frame":"group","dx":37},"width":268,"height":133,"transform":[{"filter":"datum.p==8"}],
 "encoding":{"x":{"field":"x","type":"quantitative","scale":{"domain":[8,14.5]},"axis":null},"y":{"field":"y","type":"quantitative","scale":{"domain":[-8,0]},"axis":null}},
 "resolve":{"axis":{"x":"independent","y":"independent"}},
 "layer":[
  {"transform":[{"filter":"datum.k=='v'"}],"mark":{"type":"rule","color":"#8c8c8c","strokeDash":[8,6],"strokeWidth":1.6},"encoding":{"y":{"datum":-8,"type":"quantitative","axis":null},"y2":{"datum":0}}},
  {"transform":[{"filter":"datum.k=='g'"}],"mark":{"type":"line","color":"#b5b5b5","strokeDash":[6,5],"strokeWidth":1.4,"clip":true},"encoding":{"x":{"field":"x","type":"quantitative","scale":{"domain":[8,14.5]},"axis":{"orient":"top","values":[8,9,10,11,12,13,14],"labels":false,"title":null}},"y":{"field":"y","type":"quantitative","scale":{"domain":[-8,0]},"axis":{"orient":"right","values":[0,-2,-4,-6,-8],"labels":false,"title":null}}}},
  {"transform":[{"filter":"datum.k=='g'"}],"mark":{"type":"point","shape":"M-1,-1L1,1M1,-1L-1,1","filled":false,"color":"#9a9a9a","strokeWidth":1.3,"size":170,"opacity":1}},
  {"transform":[{"filter":"datum.k=='c'"}],"mark":{"type":"line","clip":true,"interpolate":"monotone"},"encoding":{
    "x":{"field":"x","type":"quantitative","scale":{"domain":[8,14.5]},"axis":{"orient":"bottom","values":[9,10,11,12,13,14],"title":"log  Lᵢᵣ(L⊙)"}},
    "y":{"field":"y","type":"quantitative","scale":{"domain":[-8,0]},"axis":{"orient":"left","values":[0,-2,-4,-6,-8],"labels":false,"title":null}},
    "stroke":{"field":"s","type":"nominal","scale":{"domain":["dashdot","dashed","dotted","solid"],"range":["#1ed23c","#ff2a1f","#2a3cff","#000000"]},"legend":null},
    "strokeDash":{"field":"s","type":"nominal","scale":{"domain":["dashdot","dashed","dotted","solid"],"range":[[9,4,2,4],[11,6],[3,4],[1,0]]},"legend":null},
    "strokeWidth":{"field":"s","type":"nominal","scale":{"domain":["dashdot","dashed","dotted","solid"],"range":[2.2,1.6,3.2,2]},"legend":null}}},
  {"transform":[{"filter":"datum.k=='d' && isValid(datum.lo)"}],"mark":{"type":"errorbar","ticks":true,"color":"#858585"},"encoding":{"y":{"field":"lo","type":"quantitative","scale":{"domain":[-8,0]},"axis":null},"y2":{"field":"hi"}}},
  {"transform":[{"filter":"datum.k=='d'"}],"mark":{"type":"point","filled":true,"size":110,"opacity":1},"encoding":{
    "fill":{"field":"s","type":"nominal","scale":{"domain":["PEP","Rodighiero+ 10","Le Floc'h+ 09","Vaccari+ 10","Chapman+ 05"],"range":["#000000","#0a32ff","#14e614","#ff2a00","#ff9100"]},"legend":null},
    "shape":{"field":"s","type":"nominal","scale":{"domain":["PEP","Rodighiero+ 10","Le Floc'h+ 09","Vaccari+ 10","Chapman+ 05"],"range":["circle","square","triangle-down","triangle-up","square"]},"legend":null}}}
 ]},
{"title":{"text":"2.0<z<2.5","frame":"group","dx":38},"width":268,"height":133,"transform":[{"filter":"datum.p==9"}],
 "encoding":{"x":{"field":"x","type":"quantitative","scale":{"domain":[8,14.5]},"axis":null},"y":{"field":"y","type":"quantitative","scale":{"domain":[-8,0]},"axis":null}},
 "resolve":{"axis":{"x":"independent","y":"independent"}},
 "layer":[
  {"transform":[{"filter":"datum.k=='v'"}],"mark":{"type":"rule","color":"#8c8c8c","strokeDash":[8,6],"strokeWidth":1.6},"encoding":{"y":{"datum":-8,"type":"quantitative","axis":null},"y2":{"datum":0}}},
  {"transform":[{"filter":"datum.k=='g'"}],"mark":{"type":"line","color":"#b5b5b5","strokeDash":[6,5],"strokeWidth":1.4,"clip":true},"encoding":{"x":{"field":"x","type":"quantitative","scale":{"domain":[8,14.5]},"axis":{"orient":"top","values":[8,9,10,11,12,13,14],"labels":false,"title":null}},"y":{"field":"y","type":"quantitative","scale":{"domain":[-8,0]},"axis":{"orient":"right","values":[0,-2,-4,-6,-8],"labels":false,"title":null}}}},
  {"transform":[{"filter":"datum.k=='g'"}],"mark":{"type":"point","shape":"M-1,-1L1,1M1,-1L-1,1","filled":false,"color":"#9a9a9a","strokeWidth":1.3,"size":170,"opacity":1}},
  {"transform":[{"filter":"datum.k=='c'"}],"mark":{"type":"line","clip":true,"interpolate":"monotone"},"encoding":{
    "x":{"field":"x","type":"quantitative","scale":{"domain":[8,14.5]},"axis":{"orient":"bottom","values":[9,10,11,12,13,14],"title":"log  Lᵢᵣ(L⊙)"}},
    "y":{"field":"y","type":"quantitative","scale":{"domain":[-8,0]},"axis":{"orient":"left","values":[0,-2,-4,-6,-8],"labels":false,"title":null}},
    "stroke":{"field":"s","type":"nominal","scale":{"domain":["dashdot","dashed","dotted","solid"],"range":["#1ed23c","#ff2a1f","#2a3cff","#000000"]},"legend":null},
    "strokeDash":{"field":"s","type":"nominal","scale":{"domain":["dashdot","dashed","dotted","solid"],"range":[[9,4,2,4],[11,6],[3,4],[1,0]]},"legend":null},
    "strokeWidth":{"field":"s","type":"nominal","scale":{"domain":["dashdot","dashed","dotted","solid"],"range":[2.2,1.6,3.2,2]},"legend":null}}},
  {"transform":[{"filter":"datum.k=='d' && isValid(datum.lo)"}],"mark":{"type":"errorbar","ticks":true,"color":"#858585"},"encoding":{"y":{"field":"lo","type":"quantitative","scale":{"domain":[-8,0]},"axis":null},"y2":{"field":"hi"}}},
  {"transform":[{"filter":"datum.k=='d'"}],"mark":{"type":"point","filled":true,"size":110,"opacity":1},"encoding":{
    "fill":{"field":"s","type":"nominal","scale":{"domain":["PEP","Rodighiero+ 10","Le Floc'h+ 09","Vaccari+ 10","Chapman+ 05"],"range":["#000000","#0a32ff","#14e614","#ff2a00","#ff9100"]},"legend":null},
    "shape":{"field":"s","type":"nominal","scale":{"domain":["PEP","Rodighiero+ 10","Le Floc'h+ 09","Vaccari+ 10","Chapman+ 05"],"range":["circle","square","triangle-down","triangle-up","square"]},"legend":null}}}
 ]},
{"title":{"text":"2.5<z<3.0","frame":"group","dx":35},"width":268,"height":133,"transform":[{"filter":"datum.p==10"}],
 "encoding":{"x":{"field":"x","type":"quantitative","scale":{"domain":[8,14.5]},"axis":null},"y":{"field":"y","type":"quantitative","scale":{"domain":[-8,0]},"axis":null}},
 "resolve":{"axis":{"x":"independent","y":"independent"}},
 "layer":[
  {"transform":[{"filter":"datum.k=='v'"}],"mark":{"type":"rule","color":"#8c8c8c","strokeDash":[8,6],"strokeWidth":1.6},"encoding":{"y":{"datum":-8,"type":"quantitative","axis":null},"y2":{"datum":0}}},
  {"transform":[{"filter":"datum.k=='g'"}],"mark":{"type":"line","color":"#b5b5b5","strokeDash":[6,5],"strokeWidth":1.4,"clip":true},"encoding":{"x":{"field":"x","type":"quantitative","scale":{"domain":[8,14.5]},"axis":{"orient":"top","values":[8,9,10,11,12,13,14],"labels":false,"title":null}},"y":{"field":"y","type":"quantitative","scale":{"domain":[-8,0]},"axis":{"orient":"right","values":[0,-2,-4,-6,-8],"labels":false,"title":null}}}},
  {"transform":[{"filter":"datum.k=='g'"}],"mark":{"type":"point","shape":"M-1,-1L1,1M1,-1L-1,1","filled":false,"color":"#9a9a9a","strokeWidth":1.3,"size":170,"opacity":1}},
  {"transform":[{"filter":"datum.k=='c'"}],"mark":{"type":"line","clip":true,"interpolate":"monotone"},"encoding":{
    "x":{"field":"x","type":"quantitative","scale":{"domain":[8,14.5]},"axis":{"orient":"bottom","values":[8,9,10,11,12,13,14],"title":"log  Lᵢᵣ(L⊙)"}},
    "y":{"field":"y","type":"quantitative","scale":{"domain":[-8,0]},"axis":{"orient":"left","values":[0,-2,-4,-6,-8],"title":null}},
    "stroke":{"field":"s","type":"nominal","scale":{"domain":["dashdot","dashed","dotted","solid"],"range":["#1ed23c","#ff2a1f","#2a3cff","#000000"]},"legend":null},
    "strokeDash":{"field":"s","type":"nominal","scale":{"domain":["dashdot","dashed","dotted","solid"],"range":[[9,4,2,4],[11,6],[3,4],[1,0]]},"legend":null},
    "strokeWidth":{"field":"s","type":"nominal","scale":{"domain":["dashdot","dashed","dotted","solid"],"range":[2.2,1.6,3.2,2]},"legend":null}}},
  {"transform":[{"filter":"datum.k=='d' && isValid(datum.lo)"}],"mark":{"type":"errorbar","ticks":true,"color":"#858585"},"encoding":{"y":{"field":"lo","type":"quantitative","scale":{"domain":[-8,0]},"axis":null},"y2":{"field":"hi"}}},
  {"transform":[{"filter":"datum.k=='d'"}],"mark":{"type":"point","filled":true,"size":110,"opacity":1},"encoding":{
    "fill":{"field":"s","type":"nominal","scale":{"domain":["PEP","Rodighiero+ 10","Le Floc'h+ 09","Vaccari+ 10","Chapman+ 05"],"range":["#000000","#0a32ff","#14e614","#ff2a00","#ff9100"]},"legend":null},
    "shape":{"field":"s","type":"nominal","scale":{"domain":["PEP","Rodighiero+ 10","Le Floc'h+ 09","Vaccari+ 10","Chapman+ 05"],"range":["circle","square","triangle-down","triangle-up","square"]},"legend":null}}}
 ]}
],
"config": {
  "view": {"stroke": "#000", "strokeWidth": 1.6},
  "title": {"font": "DejaVu Sans", "fontSize": 18, "fontWeight": "normal", "color": "#333", "anchor": "middle", "offset": -21, "baseline": "middle"},
  "axis": {"domain": false, "grid": false, "tickColor": "#000", "tickWidth": 1.3, "tickSize": -6, "labelFont": "DejaVu Sans", "labelFontSize": 16, "labelColor": "#444", "titleFont": "DejaVu Sans", "titleFontSize": 17, "titleFontWeight": "normal", "titleColor": "#444"},
  "axisY": {"labelFlush": true, "labelPadding": 16, "titlePadding": 16},
  "axisX": {"labelPadding": 18, "titlePadding": 5},
  "legend": {"labelFont": "DejaVu Serif", "labelFontSize": 26, "labelColor": "#000", "labelLimit": 400, "symbolSize": 240, "symbolStrokeWidth": 0, "padding": 19, "strokeColor": "#000", "strokeWidth": 1.5, "fillColor": "#fff", "rowPadding": 9, "columnPadding": 20, "labelOffset": 7, "cornerRadius": 0, "gridAlign": "none"}
}
}
